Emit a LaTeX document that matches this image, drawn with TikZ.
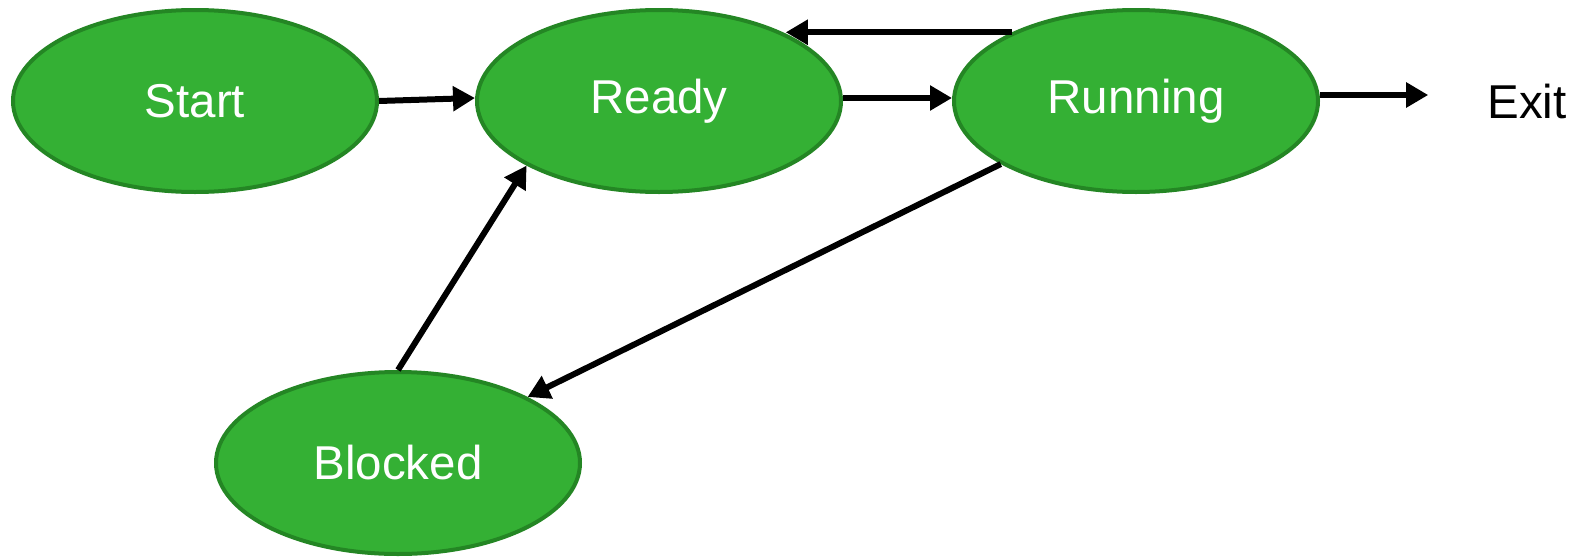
\documentclass[tikz,border=0pt]{standalone}
\usepackage{fontspec}
\setmainfont{Liberation Sans}
\usetikzlibrary{shapes.geometric,arrows.meta}
\definecolor{stfill}{RGB}{52,176,52}
\definecolor{stborder}{RGB}{36,134,36}
\tikzset{
  state/.style={ellipse, draw=stborder, fill=stfill, line width=4pt,
    minimum width=364pt, minimum height=182pt, inner sep=0pt,
    text=white, font=\fontsize{47.5}{52}\selectfont},
  conn/.style={line width=6pt, draw=black, -{Triangle[length=22pt,width=24pt]}},
  label/.style={font=\fontsize{47.5}{52}\selectfont, text=black, inner sep=0pt}
}
\begin{document}
\begin{tikzpicture}[x=1pt,y=-1pt]
\useasboundingbox (0,0) rectangle (1582,557);
\node[state] (start) at (195,101) {Start};
\node[state] (ready) at (659,101) {Ready};
\node[state] (running) at (1136,101) {Running};
\node[state] (blocked) at (398,463) {Blocked};
\node[label] (exit) at (1527,101) {Exit};

\draw[conn] (start.east) -- ([yshift=3pt]ready.west);
\draw[conn] ([yshift=3pt]ready.east) -- ([yshift=3pt]running.west);
\draw[conn] (running.151.6) -- (ready.28.4 |- running.151.6);
\draw[conn] (running.205.3) -- (blocked.27.1);
\draw[conn] (blocked.north) -- (ready.206);
\draw[conn, shorten >=59pt] ([yshift=6pt]running.east) -- ([yshift=6pt]running.east -| exit.west);
\end{tikzpicture}
\end{document}
